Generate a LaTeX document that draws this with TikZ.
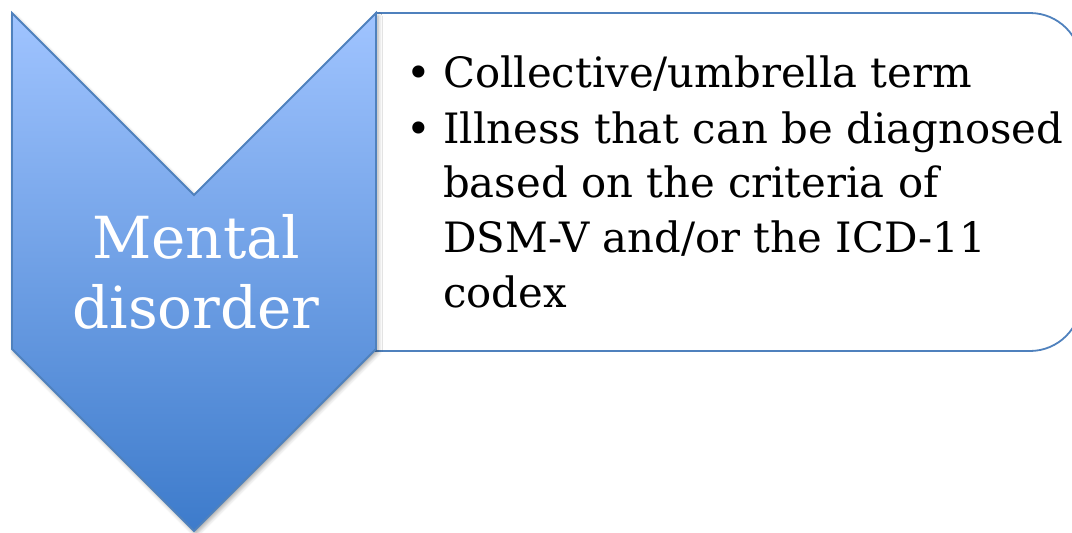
\documentclass[tikz,border=0pt]{standalone}
\usepackage{fontspec}
\setmainfont{DejaVu Serif}
\usetikzlibrary{shadows.blur}
\definecolor{edgeblue}{HTML}{4F81BD}
\definecolor{chevtop}{HTML}{A0C4FF}
\definecolor{chevbot}{HTML}{3D7BCB}
\tikzset{
  outline/.style={draw=edgeblue, line width=1.8pt, line join=miter},
  chevron/.style={outline, top color=chevtop, bottom color=chevbot,
    blur shadow={shadow xshift=2pt, shadow yshift=-3pt, shadow blur radius=4pt, shadow opacity=35}},
  headtext/.style={anchor=base, text=white, inner sep=0pt, font=\fontsize{58}{70}\selectfont},
  itemtext/.style={anchor=base west, inner sep=0pt, font=\fontsize{41.8}{55}\selectfont},
  bulletmark/.style={anchor=base, inner sep=0pt, font=\fontsize{41.8}{55}\selectfont}
}
\begin{document}
\begin{tikzpicture}[x=1pt,y=-1pt]
\useasboundingbox (0,0) rectangle (1072,533);
% text panel with rounded right corners
\coordinate (boxtl) at (376,13);
\coordinate (boxbl) at (376,351);
\draw[outline, fill=white] (boxbl) -- (boxtl) -- (1030,13)
  arc[start angle=90, end angle=0, radius=51pt] -- (1081,300)
  arc[start angle=0, end angle=-90, radius=51pt] -- cycle;
% downward chevron
\coordinate (cl) at (12,13);
\coordinate (notch) at (194,195);
\coordinate (cr) at (376,13);
\coordinate (tip) at (194,531);
\path[chevron] (cl) -- (notch) -- (cr) -- (376,349) -- (tip) -- (12,349) -- cycle;
% heading
\node[headtext] (h1) at (196,258) {Mental};
\node[headtext] (h2) at (196,328) {disorder};
% bullet list
\node[bulletmark] (b1) at (419,87) {\textbullet};
\node[itemtext] (l1) at (443,87) {Collective/umbrella term};
\node[bulletmark] (b2) at (419,143) {\textbullet};
\node[itemtext] (l2) at (443,143) {Illness that can be diagnosed};
\node[itemtext] (l3) at (443,197) {based on the criteria of};
\node[itemtext] (l4) at (443,252) {DSM-V and/or the ICD-11};
\node[itemtext] (l5) at (443,307) {codex};
\end{tikzpicture}
\end{document}
